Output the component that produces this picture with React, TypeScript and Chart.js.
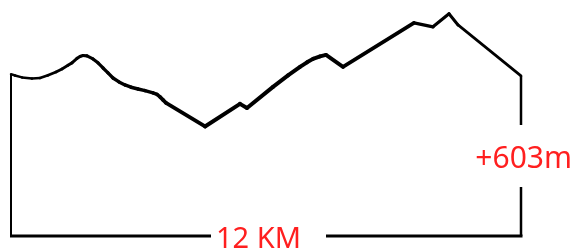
import React, { useEffect, useRef } from "react";
import { Chart, registerables } from "chart.js";

Chart.register(...registerables);

// distance along route (km)
const distanceKm = [
  0, 0.094, 0.259, 0.494, 0.682, 0.871, 1.059, 1.2, 1.341, 1.435, 1.553, 1.624, 1.694, 1.788,
  1.929, 2.047, 2.165, 2.282, 2.4, 2.541, 2.682, 2.824, 2.988, 3.153, 3.341, 3.435, 3.506,
  3.576, 3.647, 4.565, 5.388, 5.553, 6.165, 6.518, 6.8, 6.965, 7.106, 7.271, 7.412, 7.812,
  9.482, 9.929, 10.306, 10.518, 12,
];
// elevation (m)
const elevationM = [
  857, 850, 840, 834, 837, 851, 869, 885, 904, 917, 941, 951, 956, 954,
  938, 917, 890, 864, 837, 816, 800, 788, 779, 770, 758, 750, 737,
  721, 705, 580, 700, 678, 790, 851, 896, 920, 938, 951, 959, 896,
  1129, 1108, 1177, 1118, 848,
];
const distanceLabel = "12 KM";
const gainLabel = "+603m";
const totalKm = 12;

export default function App() {
  const ref = useRef<HTMLCanvasElement | null>(null);
  useEffect(() => {
    if (!ref.current) return;
    const data = distanceKm.map((x, i) => ({ x, y: elevationM[i] }));
    const framePlugin = {
      id: "frame",
      afterDatasetsDraw(chart: any) {
        const { ctx, scales } = chart;
        const xs = scales.x;
        const ys = scales.y;
        const x0 = xs.getPixelForValue(0);
        const x1 = xs.getPixelForValue(totalKm);
        const yb = ys.getPixelForValue(0);
        const yL = ys.getPixelForValue(elevationM[0]);
        const yR = ys.getPixelForValue(elevationM[elevationM.length - 1]);
        ctx.save();
        ctx.strokeStyle = "#000";
        ctx.lineCap = "butt";
        ctx.lineWidth = 2;
        ctx.beginPath();
        ctx.moveTo(x0, yL);
        ctx.lineTo(x0, yb);
        ctx.stroke();
        ctx.lineWidth = 3;
        ctx.beginPath();
        ctx.moveTo(x0 - 1, yb);
        ctx.lineTo(211, yb);
        ctx.moveTo(326, yb);
        ctx.lineTo(x1 + 1.5, yb);
        ctx.stroke();
        ctx.lineWidth = 2.5;
        ctx.beginPath();
        ctx.moveTo(x1, yR);
        ctx.lineTo(x1, 125);
        ctx.moveTo(x1, 187);
        ctx.lineTo(x1, yb);
        ctx.stroke();
        ctx.fillStyle = "#ff1f1f";
        ctx.textBaseline = "alphabetic";
        ctx.font = '29px "Noto Sans", "Open Sans", sans-serif';
        ctx.textAlign = "left";
        ctx.fillText(distanceLabel, 216, 248);
        ctx.font = '30px "Noto Sans", "Open Sans", sans-serif';
        ctx.textAlign = "right";
        ctx.fillText(gainLabel, 572, 168);
        ctx.restore();
      },
    };
    const chart = new Chart(ref.current, {
      type: "line",
      data: {
        datasets: [
          {
            data,
            borderColor: "#000",
            borderWidth: 3,
            pointRadius: 0,
            tension: 0,
            fill: false,
            borderCapStyle: "round",
            borderJoinStyle: "round",
            clip: false,
            segment: {
              borderWidth: (c: any) => {
                const t = (c.p0.parsed.x + c.p1.parsed.x) / 2 / totalKm;
                return 2.4 + 1.6 * Math.sin(Math.PI * t);
              },
            },
          } as any,
        ],
      },
      options: {
        animation: false,
        responsive: false,
        events: [],
        layout: { padding: { left: 11, right: 53, top: 0, bottom: 15 } },
        plugins: { legend: { display: false }, tooltip: { enabled: false } },
        scales: {
          x: { type: "linear", min: 0, max: totalKm, display: false },
          y: { type: "linear", min: 0, max: 1250, display: false },
        },
      },
      plugins: [framePlugin],
    });
    return () => chart.destroy();
  }, []);
  return (
    <div style={{ position: "absolute", left: 0, top: 0, width: 574, height: 251, background: "#fff" }}>
      <canvas ref={ref} width={574} height={251} style={{ width: 574, height: 251, display: "block" }} />
    </div>
  );
}
